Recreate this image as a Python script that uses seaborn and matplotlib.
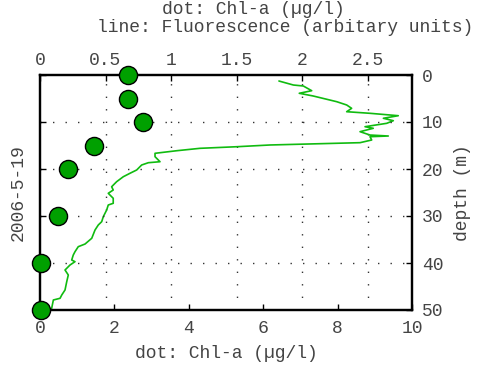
import matplotlib
matplotlib.use("Agg")
import matplotlib.pyplot as plt
import seaborn as sns
import numpy as np

# Chl-a dots (bottom axis) vs depth
chl_depth = [0, 5, 10, 15, 20, 30, 40, 50]
chl_value = [2.37, 2.37, 2.77, 1.45, 0.75, 0.48, 0.03, 0.03]

# Fluorescence profile (top axis) vs depth
fl_depth = [1.28, 2.13, 2.34, 3.34, 3.89, 4.47, 5.68, 6.38, 7.09, 7.81, 8.15, 8.66,
            9.21, 9.72, 10.28, 11.0, 11.34, 12.06, 12.77, 12.98, 13.13, 13.83, 14.40,
            14.89, 15.26, 15.60, 16.11, 16.66, 17.38, 18.45, 18.66, 19.15, 20.21,
            20.91, 21.64, 22.70, 23.77, 24.47, 25.17, 26.23, 27.30, 27.66, 28.72,
            30.15, 31.21, 31.91, 32.98, 34.74, 35.96, 36.53, 37.60, 38.30, 39.36,
            39.72, 40.43, 41.49, 42.55, 43.98, 45.74, 46.81, 47.51, 47.87, 49.64]
fl_value = [1.824, 1.934, 2.010, 2.074, 1.979, 2.086, 2.265, 2.341, 2.379, 2.341,
            2.519, 2.735, 2.621, 2.697, 2.647, 2.481, 2.544, 2.443, 2.519, 2.659,
            2.519, 2.532, 2.443, 1.756, 1.502, 1.221, 1.044, 0.878, 0.878, 0.916,
            0.827, 0.776, 0.738, 0.687, 0.636, 0.585, 0.547, 0.559, 0.521, 0.559,
            0.559, 0.521, 0.509, 0.483, 0.471, 0.445, 0.420, 0.395, 0.344, 0.292,
            0.267, 0.254, 0.242, 0.267, 0.229, 0.191, 0.216, 0.204, 0.191, 0.166,
            0.153, 0.102, 0.089]

chl_ticks = [0, 2, 4, 6, 8, 10]
fl_ticks = [0, 0.5, 1, 1.5, 2, 2.5]
fl_tick_labels = ["0", "0.5", "1", "1.5", "2", "2.5"]
depth_ticks = [0, 10, 20, 30, 40, 50]

title_line1 = "dot: Chl-a (\u00b5g/l)"
title_line2 = "line: Fluorescence (arbitary units)"
xlabel = "dot: Chl-a (\u00b5g/l)"
ylabel = "depth (m)"
date_label = "2006-5-19"

sns.set_style("ticks")
plt.rcParams["font.family"] = ["Liberation Mono", "DejaVu Sans Mono"]
plt.rcParams["font.size"] = 13
txt = "#444444"

fig = plt.figure(figsize=(4.8, 3.67), dpi=100)
fig.patch.set_facecolor("white")
ax = fig.add_axes([40/480, 1-310/367, 372/480, 235/367])
ax2 = ax.twiny()

# fluorescence line on twin (top) axis
sns.lineplot(x=fl_value, y=fl_depth, sort=False, estimator=None, ax=ax2,
             color="#10bb10", lw=1.2)
ax2.set_xlim(0, 372/131)
ax2.set_xticks(fl_ticks)
ax2.set_xticklabels(fl_tick_labels)
ax2.set_xlabel("")
ax2.set_ylabel("")
for v in fl_ticks[1:]:
    ax2.axvline(v, color="#333333", lw=1.0, ls=(0, (1, 8)), zorder=0)

# dots on main axis
sns.scatterplot(x=chl_value, y=chl_depth, ax=ax, s=170, color="#00a000",
                edgecolor="black", linewidth=1.0, clip_on=False, zorder=5)
ax.set_xlim(0, 10)
ax.set_ylim(50, 0)
ax2.set_ylim(50, 0)
ax.set_xticks(chl_ticks)
ax.set_yticks(depth_ticks)
for v in depth_ticks[1:-1]:
    ax.axhline(v, color="#333333", lw=1.0, ls=(0, (1, 8)), zorder=0)

ax.set_zorder(ax2.get_zorder() + 1)
ax.patch.set_visible(False)
ax2.patch.set_visible(True)
ax2.patch.set_facecolor("white")

ax.yaxis.tick_right()
ax.yaxis.set_label_position("right")
ax.tick_params(axis="x", direction="in", length=4, width=1, colors=txt, labelsize=13,
               pad=7, bottom=True, top=False)
ax.tick_params(axis="y", direction="in", length=4, width=1, colors=txt, labelsize=13,
               pad=7, left=True, right=True, labelleft=False, labelright=True)
ax2.tick_params(axis="x", direction="in", length=4, width=1, colors=txt, labelsize=13,
                pad=4, top=True, bottom=False)
ax2.tick_params(axis="y", left=False, right=False, labelleft=False, labelright=False)
for a in (ax, ax2):
    a.tick_params(color="black")
    for s in a.spines.values():
        s.set_color("black")
        s.set_linewidth(1.6)

ax.set_xlabel(xlabel, color=txt, fontsize=13, labelpad=6)
ax.set_ylabel(ylabel, color=txt, fontsize=13, labelpad=8)

fig.text(18/480, 1-193/367, date_label, rotation=90, ha="center", va="center",
         color=txt, fontsize=13)
fig.text(253/480, 1-10/367, title_line1, ha="center", va="center", color=txt, fontsize=13)
fig.text(285/480, 1-27.5/367, title_line2, ha="center", va="center", color=txt, fontsize=13)

fig.savefig("out.png", dpi=100, facecolor="white")
